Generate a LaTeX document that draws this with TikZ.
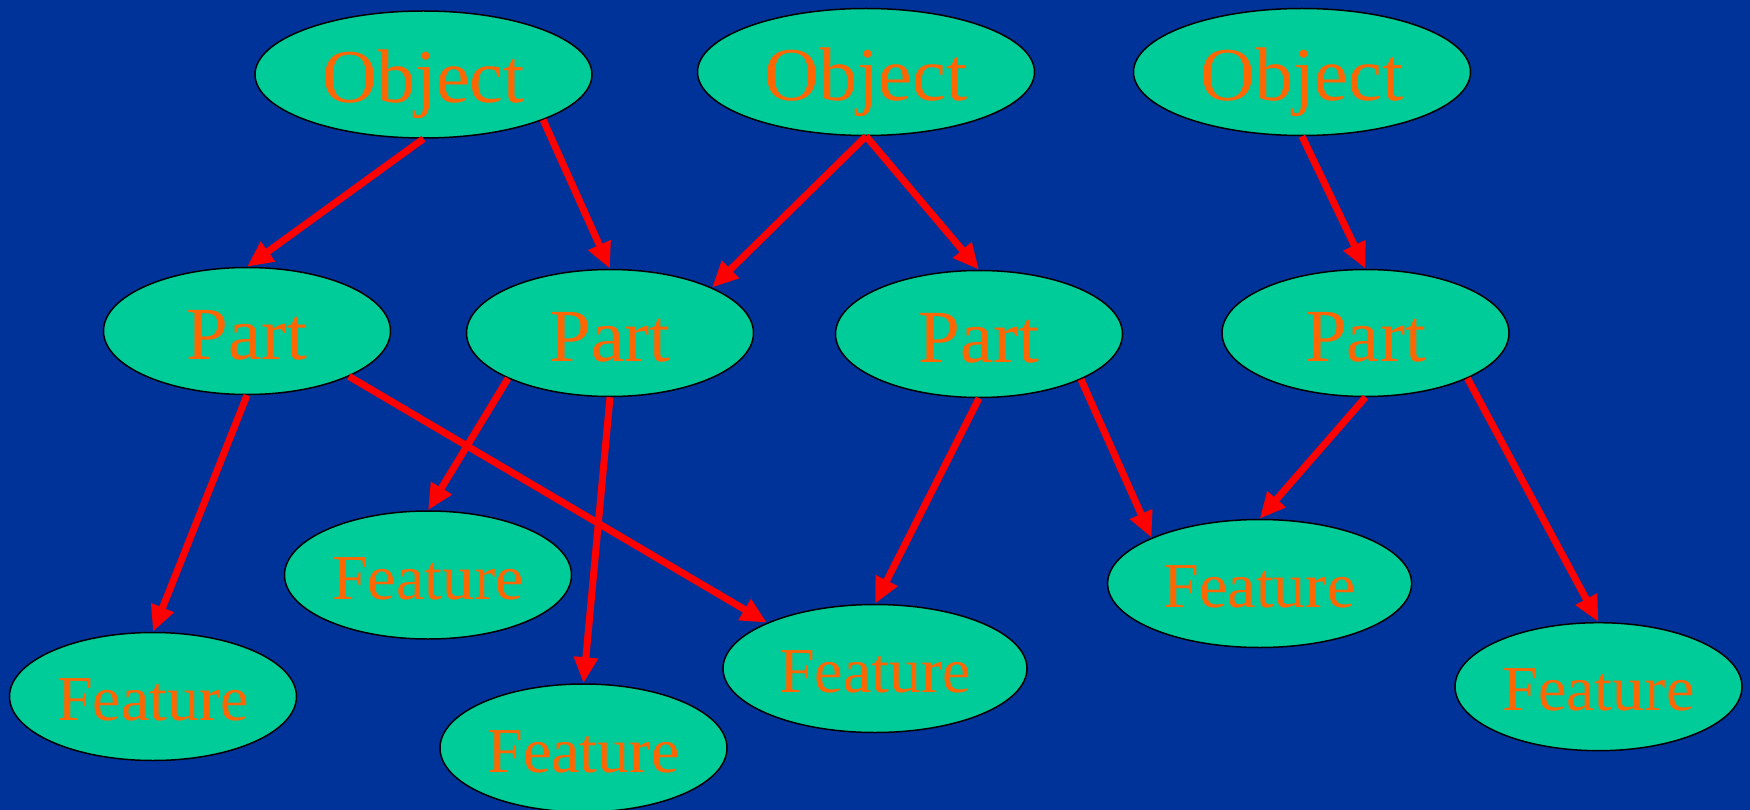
\documentclass[tikz,border=0pt]{standalone}
\usepackage{fontspec}
\setmainfont{Liberation Serif}
\usetikzlibrary{arrows.meta,shapes.geometric}
\definecolor{bg}{HTML}{003399}
\definecolor{nodefill}{HTML}{00CC99}
\definecolor{txt}{HTML}{FF6600}
\definecolor{arr}{HTML}{FF0000}
\tikzset{
  ent/.style={shape=ellipse, fill=nodefill, draw=black, line width=1.5pt, inner sep=0pt, text=txt},
  objnode/.style={ent, minimum width=337pt, minimum height=127pt, text height=57pt, text depth=0pt, font=\fontsize{76}{80}\selectfont},
  partnode/.style={ent, minimum width=287pt, minimum height=127pt, text height=57pt, text depth=0pt, font=\fontsize{75}{80}\selectfont},
  featnode/.style={ent, minimum width=287pt, minimum height=128pt, text height=48pt, text depth=0pt, font=\fontsize{64}{70}\selectfont},
  widefeat/.style={featnode, minimum width=304pt},
  link/.style={draw=arr, line width=7pt, -{Triangle[length=26pt,width=23pt]}}
}
\begin{document}
\begin{tikzpicture}[x=1pt,y=-1pt]
\fill[bg] (0,0) rectangle (1750,810);
\useasboundingbox (0,0) rectangle (1750,810);
\node[objnode] (o1) at (423.5,74.5) {Object};
\node[objnode] (o2) at (866,72) {Object};
\node[objnode] (o3) at (1302,72) {Object};
\node[partnode] (p1) at (247,331) {Part};
\node[partnode] (p2) at (610,333) {Part};
\node[partnode] (p3) at (979,334) {Part};
\node[partnode] (p4) at (1365.5,333) {Part};
\node[featnode] (fa) at (428,575) {Feature};
\node[featnode] (fb) at (153,696.5) {Feature};
\node[featnode] (fc) at (583.5,748) {Feature};
\node[widefeat] (fd) at (875,668.5) {Feature};
\node[widefeat] (fe) at (1259.6,583.5) {Feature};
\node[featnode] (ff) at (1598.5,686.7) {Feature};
\draw[link] (o1.south) -- (p1.north);
\draw[link] (o1.south east) -- (p2.north);
\draw[link] (o2.south) -- (p2.north east);
\draw[link] (o2.south) -- (p3.north);
\draw[link] (o3.south) -- (p4.north);
\draw[link] (p1.south) -- (fb.north);
\draw[link] (p1.south east) -- (fd.north west);
\draw[link] (p2.south west) -- (fa.north);
\draw[link] (p2.south) -- (fc.north);
\draw[link] (p3.south) -- (fd.north);
\draw[link] (p3.south east) -- (fe.north west);
\draw[link] (p4.south) -- (fe.north);
\draw[link] (p4.south east) -- (ff.north);
\end{tikzpicture}
\end{document}
